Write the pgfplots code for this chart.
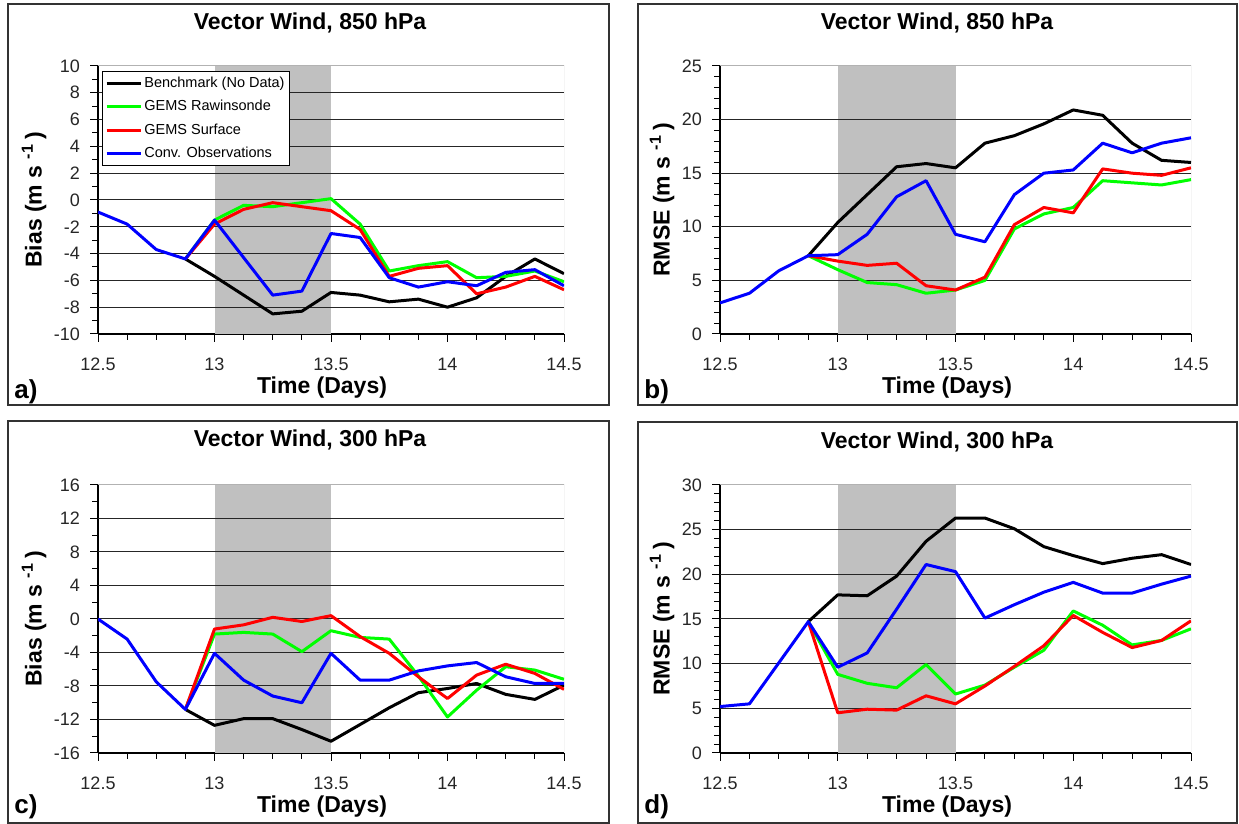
\documentclass[border=0pt]{standalone}
\usepackage{fontspec}
\setmainfont{Liberation Sans}
\usepackage{pgfplots}
\pgfplotsset{compat=1.18}

\definecolor{shade}{RGB}{192,192,192}
\definecolor{cgreen}{RGB}{0,255,0}
\definecolor{cred}{RGB}{255,0,0}
\definecolor{cblue}{RGB}{0,0,255}

\pgfplotsset{
  panel/.style={
    scale only axis, width=235.5pt, height=134pt,
    xmin=12.5, xmax=14.5,
    xtick={12.5,13,13.5,14,14.5},
    minor x tick num=3,
    axis x line*=bottom, axis y line*=left,
    axis line style={black, line width=0.6pt, -},
    tick align=outside,
    major tick length=4pt, minor tick length=3pt,
    tick style={black, line width=0.5pt},
    tick label style={font=\fontsize{9}{10}\selectfont, black!85},
    /pgf/number format/assume math mode=true,
    xticklabel style={yshift=-4.5pt},
    yticklabel style={xshift=-1.5pt},
  },
  every axis plot/.append style={line width=1.5pt, line join=round},
}
\tikzset{gridl/.style={black!85, line width=0.5pt}}

% shaded band, horizontal grid lines and grey top/right border
\newcommand{\backdrop}[3]{%
  \addplot[draw=none, fill=shade, forget plot]
    coordinates {(13,#1) (13.5,#1) (13.5,#2) (13,#2)};
  \pgfplotsinvokeforeach{#3}{\draw[gridl] (axis cs:12.5,##1) -- (axis cs:14.5,##1);}
  \draw[gray!60, line width=0.5pt] (axis cs:12.5,#2) -- (axis cs:14.5,#2) -- (axis cs:14.5,#1);
}

\newcommand{\ttl}[1]{\fontsize{11.5}{13}\selectfont\bfseries #1}

\begin{document}
\begin{tikzpicture}
\useasboundingbox (0,0) rectangle (619.5pt,412pt);
% panel frames
\draw[black!80, line width=0.6pt] (4pt,209.5pt) rectangle (304.5pt,410pt);
\draw[black!80, line width=0.6pt] (319pt,209.5pt) rectangle (618.5pt,410pt);
\draw[black!80, line width=0.6pt] (4pt,0.5pt) rectangle (304.5pt,201.5pt);
\draw[black!80, line width=0.6pt] (319pt,0.5pt) rectangle (618.5pt,201pt);

% a) bias 850 hPa
\begin{axis}[panel, width=233pt, at={(49pt,245pt)}, anchor=south west,
  ymin=-10, ymax=10, ytick={-10,-8,...,10}, minor y tick num=1,
  legend style={at={(0.008,0.981)}, anchor=north west, draw=black,
    line width=0.5pt, font=\fontsize{7.25}{8}\selectfont,
    inner sep=1.5pt, row sep=3pt, cells={anchor=west},
    nodes={inner sep=1pt}}]
\backdrop{-10}{10}{-8,-6,-4,-2,0,2,4,6,8}
\addplot[black] coordinates {
  (12.875,-4.4) (13,-5.7) (13.125,-7.1) (13.25,-8.5) (13.375,-8.3) (13.5,-6.9)
  (13.625,-7.1) (13.75,-7.6) (13.875,-7.4) (14,-8.0) (14.125,-7.3) (14.25,-5.7)
  (14.375,-4.4) (14.5,-5.5)};
\addlegendentry{Benchmark (No Data)}
\addplot[cgreen] coordinates {
  (12.875,-4.4) (13,-1.5) (13.125,-0.4) (13.25,-0.5) (13.375,-0.2) (13.5,0.1)
  (13.625,-1.8) (13.75,-5.3) (13.875,-4.9) (14,-4.6) (14.125,-5.8) (14.25,-5.7)
  (14.375,-5.3) (14.5,-6.1)};
\addlegendentry{GEMS Rawinsonde}
\addplot[cred] coordinates {
  (12.875,-4.4) (13,-1.8) (13.125,-0.7) (13.25,-0.2) (13.375,-0.5) (13.5,-0.8)
  (13.625,-2.2) (13.75,-5.7) (13.875,-5.1) (14,-4.9) (14.125,-7.0) (14.25,-6.5)
  (14.375,-5.7) (14.5,-6.7)};
\addlegendentry{GEMS Surface}
\addplot[cblue] coordinates {
  (12.5,-0.9) (12.625,-1.8) (12.75,-3.7) (12.875,-4.4) (13,-1.5) (13.125,-4.3)
  (13.25,-7.1) (13.375,-6.8) (13.5,-2.5) (13.625,-2.8) (13.75,-5.8) (13.875,-6.5)
  (14,-6.1) (14.125,-6.4) (14.25,-5.4) (14.375,-5.2) (14.5,-6.4)};
\addlegendentry{Conv. Observations}
\end{axis}

% b) RMSE 850 hPa
\begin{axis}[panel, at={(360pt,245pt)}, anchor=south west,
  ymin=0, ymax=25, ytick={0,5,...,25}, minor y tick num=4]
\backdrop{0}{25}{5,10,15,20}
\addplot[black] coordinates {
  (12.875,7.3) (13,10.4) (13.125,13.0) (13.25,15.6) (13.375,15.9) (13.5,15.5)
  (13.625,17.8) (13.75,18.5) (13.875,19.6) (14,20.9) (14.125,20.4) (14.25,17.8)
  (14.375,16.2) (14.5,16.0)};
\addplot[cgreen] coordinates {
  (12.875,7.3) (13,6.0) (13.125,4.8) (13.25,4.6) (13.375,3.8) (13.5,4.1)
  (13.625,5.0) (13.75,9.8) (13.875,11.2) (14,11.8) (14.125,14.3) (14.25,14.1)
  (14.375,13.9) (14.5,14.4)};
\addplot[cred] coordinates {
  (12.875,7.3) (13,6.8) (13.125,6.4) (13.25,6.6) (13.375,4.5) (13.5,4.1)
  (13.625,5.3) (13.75,10.2) (13.875,11.8) (14,11.3) (14.125,15.4) (14.25,15.0)
  (14.375,14.8) (14.5,15.5)};
\addplot[cblue] coordinates {
  (12.5,2.9) (12.625,3.8) (12.75,5.9) (12.875,7.3) (13,7.4) (13.125,9.3)
  (13.25,12.8) (13.375,14.3) (13.5,9.3) (13.625,8.6) (13.75,13.0) (13.875,15.0)
  (14,15.3) (14.125,17.8) (14.25,16.9) (14.375,17.8) (14.5,18.3)};
\end{axis}

% c) bias 300 hPa
\begin{axis}[panel, width=233pt, at={(49pt,35.5pt)}, anchor=south west,
  ymin=-16, ymax=16, ytick={-16,-12,...,16}, minor y tick num=1]
\backdrop{-16}{16}{-12,-8,-4,0,4,8,12}
\addplot[black] coordinates {
  (12.875,-10.8) (13,-12.7) (13.125,-11.9) (13.25,-11.9) (13.375,-13.2) (13.5,-14.6)
  (13.625,-12.6) (13.75,-10.6) (13.875,-8.8) (14,-8.3) (14.125,-7.7) (14.25,-9.0)
  (14.375,-9.6) (14.5,-7.9)};
\addplot[cgreen] coordinates {
  (12.875,-10.8) (13,-1.8) (13.125,-1.6) (13.25,-1.8) (13.375,-3.9) (13.5,-1.4)
  (13.625,-2.2) (13.75,-2.4) (13.875,-6.8) (14,-11.7) (14.125,-8.5) (14.25,-5.7)
  (14.375,-6.1) (14.5,-7.2)};
\addplot[cred] coordinates {
  (12.875,-10.8) (13,-1.2) (13.125,-0.7) (13.25,0.2) (13.375,-0.3) (13.5,0.4)
  (13.625,-2.1) (13.75,-4.1) (13.875,-6.9) (14,-9.5) (14.125,-6.7) (14.25,-5.4)
  (14.375,-6.5) (14.5,-8.4)};
\addplot[cblue] coordinates {
  (12.5,0.0) (12.625,-2.4) (12.75,-7.5) (12.875,-10.8) (13,-4.1) (13.125,-7.3)
  (13.25,-9.2) (13.375,-10.0) (13.5,-4.1) (13.625,-7.3) (13.75,-7.3) (13.875,-6.2)
  (14,-5.6) (14.125,-5.2) (14.25,-6.9) (14.375,-7.7) (14.5,-7.7)};
\end{axis}

% d) RMSE 300 hPa
\begin{axis}[panel, at={(360pt,35.5pt)}, anchor=south west,
  ymin=0, ymax=30, ytick={0,5,...,30}, minor y tick num=4]
\backdrop{0}{30}{5,10,15,20,25}
\addplot[black] coordinates {
  (12.875,14.7) (13,17.7) (13.125,17.6) (13.25,19.8) (13.375,23.7) (13.5,26.3)
  (13.625,26.3) (13.75,25.1) (13.875,23.1) (14,22.1) (14.125,21.2) (14.25,21.8)
  (14.375,22.2) (14.5,21.1)};
\addplot[cgreen] coordinates {
  (12.875,14.7) (13,8.8) (13.125,7.8) (13.25,7.3) (13.375,9.9) (13.5,6.6)
  (13.625,7.6) (13.75,9.6) (13.875,11.5) (14,15.9) (14.125,14.3) (14.25,12.1)
  (14.375,12.6) (14.5,13.9)};
\addplot[cred] coordinates {
  (12.875,14.7) (13,4.5) (13.125,4.9) (13.25,4.8) (13.375,6.4) (13.5,5.5)
  (13.625,7.5) (13.75,9.7) (13.875,12.0) (14,15.4) (14.125,13.5) (14.25,11.8)
  (14.375,12.6) (14.5,14.8)};
\addplot[cblue] coordinates {
  (12.5,5.2) (12.625,5.5) (12.75,10.1) (12.875,14.7) (13,9.6) (13.125,11.2)
  (13.25,16.1) (13.375,21.1) (13.5,20.3) (13.625,15.1) (13.75,16.6) (13.875,18.0)
  (14,19.1) (14.125,17.9) (14.25,17.9) (14.375,18.9) (14.5,19.8)};
\end{axis}

% titles and labels
\node at (155pt,400.5pt) {\ttl{Vector Wind, 850 hPa}};
\node at (468.5pt,400.5pt) {\ttl{Vector Wind, 850 hPa}};
\node at (155pt,192pt) {\ttl{Vector Wind, 300 hPa}};
\node at (468.5pt,191pt) {\ttl{Vector Wind, 300 hPa}};
\node at (161pt,218pt) {\ttl{Time (Days)}};
\node at (473.5pt,218pt) {\ttl{Time (Days)}};
\node at (161pt,8.5pt) {\ttl{Time (Days)}};
\node at (473.5pt,8.5pt) {\ttl{Time (Days)}};
\node[rotate=90] at (17pt,312pt) {\ttl{Bias (m s \textsuperscript{-1}\,)}};
\node[rotate=90] at (331pt,312pt) {\ttl{RMSE (m s \textsuperscript{-1}\,)}};
\node[rotate=90] at (17pt,102.5pt) {\ttl{Bias (m s \textsuperscript{-1}\,)}};
\node[rotate=90] at (331pt,102.5pt) {\ttl{RMSE (m s \textsuperscript{-1}\,)}};
\node[anchor=west, inner sep=0pt] at (7pt,216pt) {\fontsize{13}{15}\selectfont\bfseries a)};
\node[anchor=west, inner sep=0pt] at (322pt,216pt) {\fontsize{13}{15}\selectfont\bfseries b)};
\node[anchor=west, inner sep=0pt] at (7pt,8.5pt) {\fontsize{13}{15}\selectfont\bfseries c)};
\node[anchor=west, inner sep=0pt] at (322pt,8.5pt) {\fontsize{13}{15}\selectfont\bfseries d)};
\end{tikzpicture}
\end{document}
